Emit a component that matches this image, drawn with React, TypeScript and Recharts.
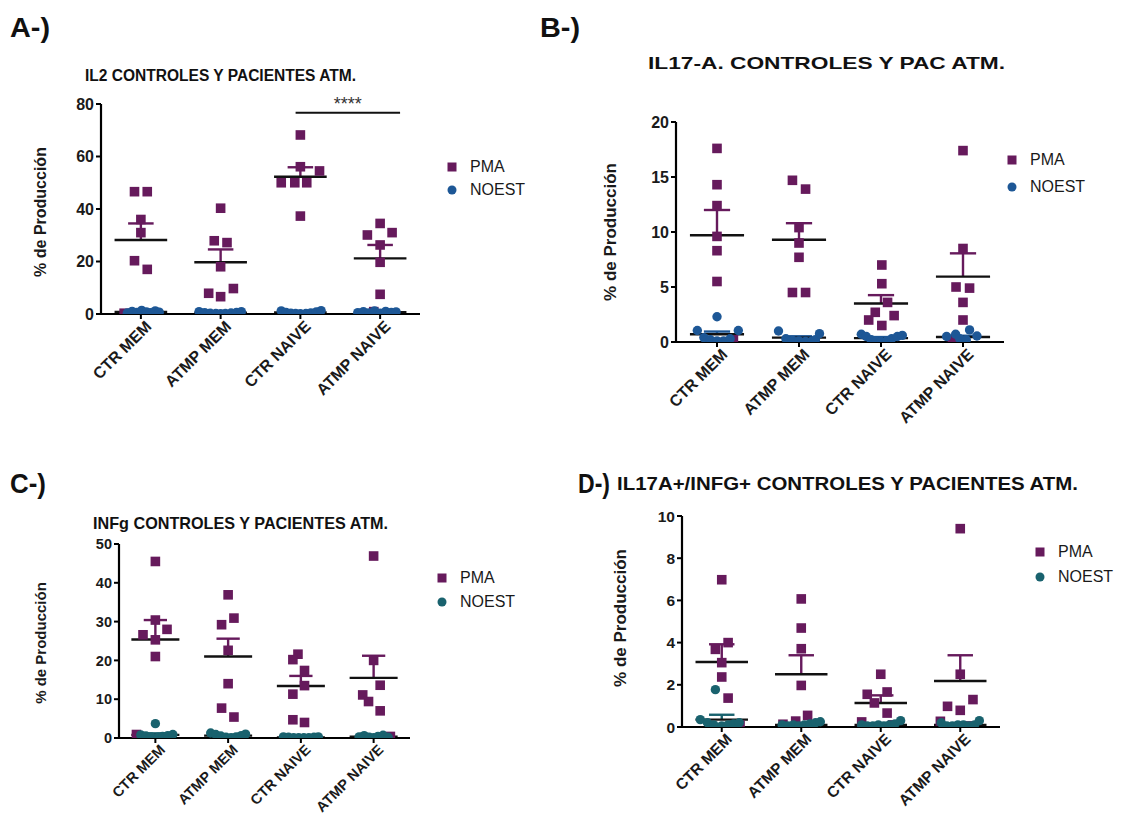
import React from "react";
import {
  ScatterChart,
  Scatter,
  XAxis,
  YAxis,
  ReferenceLine,
  Legend,
} from "recharts";

const FONT = '"Liberation Sans", Arial, Helvetica, sans-serif';
const PMA_COLOR = "#661a5c";
const BLUE = "#1d5796";
const TEAL = "#19626e";

const GROUPS = ["CTR MEM", "ATMP MEM", "CTR NAIVE", "ATMP NAIVE"];

// ---- A) IL2 ----
const A_PMA = [
  [46.6, 46.6, 36, 31, 20.3, 17, 0.3],
  [40.3, 27.9, 27.2, 18, 9.7, 7.9, 6.6],
  [68.2, 56.1, 54.5, 50, 50, 50, 37.3],
  [34.5, 31, 30.1, 26.3, 19.7, 7.5, 0.9],
];
const A_PMA_DX = [
  [-0.08, 0.08, 0, 0, -0.08, 0.08, -0.21],
  [0, -0.08, 0.08, 0, 0.16, -0.15, 0],
  [0, 0, 0.24, -0.24, -0.07, 0.08, 0],
  [0, 0.15, -0.16, 0, 0, 0, -0.08],
];
const A_PMA_MEAN = [28.2, 19.7, 52.3, 21.2];
const A_PMA_SEM = [6.3, 4.9, 3.6, 5.1];
const A_NOEST = [
  [0.4, 1.0, 0.6, 1.4, 0.8, 0.5, 1.2, 0.7],
  [0.9, 0.5, 0.3, 0.2, 0.1, 0.2, 0.4, 0.6, 0.9],
  [1.2, 0.6, 0.3, 0.2, 0.1, 0.2, 0.4, 0.8, 1.3],
  [0.5, 0.9, 0.4, 1.2, 0.3, 1.0, 0.6, 0.8],
];
const A_NOEST_DX = [
  [-0.17, -0.11, -0.05, 0.01, 0.07, 0.12, 0.18, 0.23],
  [-0.27, -0.2, -0.13, -0.06, 0, 0.06, 0.13, 0.2, 0.26],
  [-0.24, -0.18, -0.12, -0.06, 0, 0.07, 0.13, 0.2, 0.26],
  [-0.28, -0.21, -0.14, -0.07, 0, 0.07, 0.14, 0.2],
];
const A_NOEST_MEAN = [0.8, 0.45, 0.55, 0.7];
const A_NOEST_SEM = [0.15, 0.1, 0.15, 0.12];

// ---- B) IL17-A ----
const B_PMA = [
  [17.6, 14.3, 12.4, 9.6, 8.3, 5.5, 0.2],
  [14.7, 13.9, 10.4, 9.0, 7.7, 4.5, 4.5],
  [7.0, 5.3, 3.6, 2.7, 2.4, 2.0, 1.5],
  [17.4, 8.5, 5.0, 4.9, 3.6, 2.0, 0.2],
];
const B_PMA_DX = [
  [0, 0, 0, 0, 0, 0, 0.2],
  [-0.08, 0.08, 0, 0, 0, -0.08, 0.08],
  [0.01, 0.01, 0.08, -0.07, 0.16, -0.15, 0.01],
  [0, 0, -0.085, 0.08, 0, 0, -0.13],
];
const B_PMA_MEAN = [9.7, 9.3, 3.5, 5.94];
const B_PMA_SEM = [2.3, 1.5, 0.76, 2.12];
const B_NOEST = [
  [2.3, 1.05, 1.05, 0.4, 0.2, 0.1, 0.1, 0.3],
  [1.0, 0.3, 0.15, 0.1, 0.05, 0.1, 0.2, 0.76],
  [0.7, 0.5, 0.2, 0.1, 0.05, 0.1, 0.3, 0.5, 0.6],
  [0.5, 0.7, 1.1, 0.55, 0.1, 0.3, 0.2],
];
const B_NOEST_DX = [
  [0, -0.24, 0.26, -0.16, -0.08, 0.08, 0, 0.16],
  [-0.25, -0.16, -0.08, 0, 0.08, 0.16, 0.2, 0.25],
  [-0.24, -0.18, -0.12, -0.06, 0, 0.07, 0.13, 0.2, 0.26],
  [-0.2, -0.09, 0.08, 0.17, 0, -0.04, 0.04],
];
const B_NOEST_MEAN = [0.7, 0.4, 0.35, 0.45];
const B_NOEST_SEM = [0.25, 0.12, 0.1, 0.12];

// ---- C) INFg ----
const C_PMA = [
  [45.5, 30.4, 28, 26.6, 25.3, 21.0, 0.9],
  [36.9, 30.9, 29.2, 22.6, 14, 7.7, 5.4],
  [21.6, 20.2, 17.4, 13.5, 11.3, 4.7, 4.0],
  [46.9, 20.0, 13.6, 11.1, 9.4, 7.0, 0.4],
];
const C_PMA_DX = [
  [0, 0, 0.16, -0.17, 0, 0, -0.26],
  [0, 0.08, -0.09, 0, 0, -0.09, 0.08],
  [-0.04, -0.11, 0.05, 0.05, -0.11, -0.11, 0.05],
  [0, 0, 0.09, -0.15, -0.07, 0.09, 0.23],
];
const C_PMA_MEAN = [25.4, 21.0, 13.4, 15.5];
const C_PMA_SEM = [5.0, 4.6, 2.6, 5.7];
const C_NOEST = [
  [3.7, 0.8, 0.5, 0.3, 0.2, 0.4, 0.6, 0.9],
  [1.3, 0.9, 0.5, 0.2, 0.1, 0.3, 0.6, 1.0],
  [0.3, 0.2, 0.1, 0.05, 0.05, 0.1, 0.2, 0.3],
  [0.3, 0.6, 0.2, 0.1, 0.4, 0.7, 0.2],
];
const C_NOEST_DX = [
  [0, -0.2, -0.13, -0.06, 0.04, 0.1, 0.17, 0.24],
  [-0.24, -0.17, -0.1, -0.03, 0.04, 0.11, 0.18, 0.24],
  [-0.24, -0.17, -0.1, -0.03, 0.04, 0.11, 0.18, 0.24],
  [-0.2, -0.13, -0.06, 0, 0.06, 0.13, 0.2],
];
const C_NOEST_MEAN = [0.8, 0.6, 0.15, 0.35];
const C_NOEST_SEM = [0.4, 0.15, 0.05, 0.1];

// ---- D) IL17A+/INFG+ ----
const D_PMA = [
  [6.98, 4.0, 3.68, 3.05, 2.37, 1.37, 0.08],
  [6.07, 4.69, 3.71, 1.97, 0.55, 0.28, 0.13],
  [2.5, 1.66, 1.55, 1.14, 0.66, 0.24, 0.1],
  [9.4, 2.5, 1.3, 0.98, 0.79, 0.27, 0.05],
];
const D_PMA_DX = [
  [0, 0.08, -0.08, 0, 0, 0.08, 0.23],
  [0, 0, 0, 0, 0.08, -0.07, -0.23],
  [0, 0.08, -0.17, -0.08, 0.08, -0.24, 0.15],
  [0, 0, 0.16, -0.16, 0, -0.25, 0.1],
];
const D_PMA_MEAN = [3.08, 2.5, 1.14, 2.18];
const D_PMA_SEM = [0.84, 0.9, 0.36, 1.22];
const D_NOEST = [
  [1.77, 0.35, 0.2, 0.1, 0.05, 0.1, 0.15, 0.2],
  [0.1, 0.05, 0.1, 0.05, 0.1, 0.15, 0.2, 0.25],
  [0.1, 0.05, 0.05, 0.1, 0.05, 0.1, 0.15, 0.3],
  [0.2, 0.05, 0.05, 0.1, 0.1, 0.05, 0.1, 0.3],
];
const D_NOEST_DX = [
  [-0.08, -0.27, -0.18, -0.1, 0, 0.08, 0.15, 0.22],
  [-0.24, -0.17, -0.1, -0.03, 0.04, 0.11, 0.18, 0.24],
  [-0.24, -0.17, -0.1, -0.03, 0.04, 0.11, 0.18, 0.25],
  [-0.24, -0.17, -0.1, -0.03, 0.04, 0.11, 0.18, 0.24],
];
const D_NOEST_MEAN = [0.35, 0.1, 0.1, 0.1];
const D_NOEST_SEM = [0.23, 0.03, 0.03, 0.03];

// significance bar in panel A (x in group units, y in %)
const A_SIG = { x1: 1.94, x2: 3.25, y: 76.7, text: "****" };

type Pt = { x: number; y: number };

function toPoints(vals: number[][], dx: number[][]): Pt[] {
  const out: Pt[] = [];
  vals.forEach((g, gi) => g.forEach((v, i) => out.push({ x: gi + dx[gi][i], y: v })));
  return out;
}

function statLines(means: number[], sems: number[], color: string, key: string) {
  return means.flatMap((m, g) => {
    const top = m + sems[g];
    return [
      <ReferenceLine key={`${key}v${g}`} segment={[{ x: g, y: m }, { x: g, y: top }]} stroke={color} strokeWidth={2.4} ifOverflow="visible" />,
      <ReferenceLine key={`${key}c${g}`} segment={[{ x: g - 0.16, y: top }, { x: g + 0.16, y: top }]} stroke={color} strokeWidth={2.4} ifOverflow="visible" />,
      <ReferenceLine key={`${key}m${g}`} segment={[{ x: g - 0.33, y: m }, { x: g + 0.33, y: m }]} stroke="#111" strokeWidth={2.4} ifOverflow="visible" />,
    ];
  });
}

function CategoryTick(props: any) {
  const { x, y, payload, fs } = props;
  return (
    <g transform={`translate(${x + 3},${y - 2}) rotate(-45)`}>
      <text textAnchor="end" dy="0.75em" fontSize={fs} fontWeight={700} fill="#1a1a1a" fontFamily={FONT}>
        {GROUPS[payload.value]}
      </text>
    </g>
  );
}

interface PanelProps {
  plot: { left: number; right: number; top: number; bottom: number };
  yMax: number;
  yTicks: number[];
  noestColor: string;
  pma: Pt[];
  noest: Pt[];
  pmaMean: number[];
  pmaSem: number[];
  noestMean: number[];
  noestSem: number[];
  legendAt: { x: number; y: number; gap: number };
  tickFont?: number;
  extra?: React.ReactNode;
}

const PAD_L = 100;
const PAD_T = 30;
const PAD_R = 160;
const PAD_B = 110;
const Y_W = 40;
const X_H = 90;

function Panel(p: PanelProps) {
  const w = p.plot.right - p.plot.left;
  const h = p.plot.bottom - p.plot.top;
  const boxLeft = p.plot.left - PAD_L;
  const boxTop = p.plot.top - PAD_T;
  const fs = p.tickFont ?? 16;
  const legendContent = () => (
    <div style={{ fontFamily: FONT, fontSize: 16, color: "#1a1a1a" }}>
      {[
        { name: "PMA", color: PMA_COLOR, square: true },
        { name: "NOEST", color: p.noestColor, square: false },
      ].map((it) => (
        <div key={it.name} style={{ display: "flex", alignItems: "center", height: p.legendAt.gap, whiteSpace: "nowrap" }}>
          <svg width={10} height={10} style={{ marginRight: 13 }}>
            {it.square ? <rect x={0.5} y={0.5} width={9} height={9} fill={it.color} /> : <circle cx={5} cy={5} r={4.5} fill={it.color} />}
          </svg>
          {it.name}
        </div>
      ))}
    </div>
  );
  return (
    <div style={{ position: "absolute", left: boxLeft, top: boxTop }}>
      <ScatterChart
        width={w + PAD_L + PAD_R}
        height={h + PAD_T + PAD_B}
        margin={{ top: PAD_T, left: PAD_L - Y_W, right: PAD_R, bottom: PAD_B - X_H }}
      >
        <XAxis
          type="number"
          dataKey="x"
          domain={[-0.5, 3.5]}
          ticks={[0, 1, 2, 3]}
          allowDataOverflow
          height={X_H}
          tickSize={5}
          tick={<CategoryTick fs={fs} />}
          axisLine={{ stroke: "#000", strokeWidth: 2.2 }}
          tickLine={{ stroke: "#000", strokeWidth: 2 }}
        />
        <YAxis
          type="number"
          dataKey="y"
          domain={[0, p.yMax]}
          ticks={p.yTicks}
          allowDataOverflow
          width={Y_W}
          tickSize={5}
          tick={{ fontSize: fs, fontWeight: 700, fill: "#1a1a1a", fontFamily: FONT }}
          axisLine={{ stroke: "#000", strokeWidth: 2.2 }}
          tickLine={{ stroke: "#000", strokeWidth: 2 }}
        />
        <Legend
          layout="vertical"
          align="center"
          verticalAlign="middle"
          content={legendContent}
          wrapperStyle={{
            left: p.legendAt.x - boxLeft - 5,
            top: p.legendAt.y - boxTop - p.legendAt.gap / 2,
            width: "auto",
          }}
        />
        <Scatter
          name="PMA"
          data={p.pma}
          isAnimationActive={false}
          shape={(s: any) => <rect x={s.cx - 4.8} y={s.cy - 4.8} width={9.6} height={9.6} fill={PMA_COLOR} />}
        />
        <Scatter
          name="NOEST"
          data={p.noest}
          isAnimationActive={false}
          shape={(s: any) => <circle cx={s.cx} cy={s.cy} r={4.7} fill={p.noestColor} />}
        />
        {statLines(p.noestMean, p.noestSem, p.noestColor, "n")}
        {statLines(p.pmaMean, p.pmaSem, PMA_COLOR, "p")}
        {p.extra}
      </ScatterChart>
    </div>
  );
}

const TITLES = [
  { text: "A-)", x: 10, y: 37, size: 27, len: 40 },
  { text: "B-)", x: 540, y: 37, size: 27, len: 40 },
  { text: "C-)", x: 10, y: 493, size: 27, len: 36 },
  { text: "D-)", x: 578, y: 493, size: 27, len: 32 },
  { text: "IL2 CONTROLES Y PACIENTES ATM.", x: 85, y: 81, size: 16, len: 271 },
  { text: "IL17-A. CONTROLES Y PAC ATM.", x: 648, y: 69, size: 17, len: 357 },
  { text: "INFg CONTROLES Y PACIENTES ATM.", x: 93, y: 529, size: 17, len: 295 },
  { text: "IL17A+/INFG+ CONTROLES Y PACIENTES ATM.", x: 617, y: 490, size: 18, len: 461 },
];

const Y_LABELS = [
  { x: 42, y: 212, size: 16 },
  { x: 612, y: 232, size: 17 },
  { x: 42, y: 643, size: 15 },
  { x: 622, y: 618, size: 17 },
];

export default function App() {
  return (
    <div style={{ position: "absolute", left: 0, top: 0, width: 1135, height: 817, overflow: "hidden", background: "#fff", fontFamily: FONT }}>
      <Panel
        plot={{ left: 101, right: 420, top: 104, bottom: 314 }}
        yMax={80}
        yTicks={[0, 20, 40, 60, 80]}
        noestColor={BLUE}
        pma={toPoints(A_PMA, A_PMA_DX)}
        noest={toPoints(A_NOEST, A_NOEST_DX)}
        pmaMean={A_PMA_MEAN}
        pmaSem={A_PMA_SEM}
        noestMean={A_NOEST_MEAN}
        noestSem={A_NOEST_SEM}
        legendAt={{ x: 452, y: 167, gap: 23 }}
        extra={
          <ReferenceLine
            segment={[{ x: A_SIG.x1, y: A_SIG.y }, { x: A_SIG.x2, y: A_SIG.y }]}
            stroke="#111"
            strokeWidth={2}
            ifOverflow="visible"
            label={{ value: A_SIG.text, position: "top", fill: "#333", fontSize: 18, offset: 3 }}
          />
        }
      />
      <Panel
        plot={{ left: 676, right: 1004, top: 122, bottom: 342 }}
        yMax={20}
        yTicks={[0, 5, 10, 15, 20]}
        noestColor={BLUE}
        pma={toPoints(B_PMA, B_PMA_DX)}
        noest={toPoints(B_NOEST, B_NOEST_DX)}
        pmaMean={B_PMA_MEAN}
        pmaSem={B_PMA_SEM}
        noestMean={B_NOEST_MEAN}
        noestSem={B_NOEST_SEM}
        legendAt={{ x: 1012, y: 160, gap: 27 }}
      />
      <Panel
        plot={{ left: 119, right: 410, top: 544, bottom: 738 }}
        yMax={50}
        yTicks={[0, 10, 20, 30, 40, 50]}
        noestColor={TEAL}
        pma={toPoints(C_PMA, C_PMA_DX)}
        noest={toPoints(C_NOEST, C_NOEST_DX)}
        pmaMean={C_PMA_MEAN}
        pmaSem={C_PMA_SEM}
        noestMean={C_NOEST_MEAN}
        noestSem={C_NOEST_SEM}
        legendAt={{ x: 442, y: 578, gap: 24 }}
        tickFont={14.5}
      />
      <Panel
        plot={{ left: 682, right: 1000, top: 516, bottom: 727 }}
        yMax={10}
        yTicks={[0, 2, 4, 6, 8, 10]}
        noestColor={TEAL}
        pma={toPoints(D_PMA, D_PMA_DX)}
        noest={toPoints(D_NOEST, D_NOEST_DX)}
        pmaMean={D_PMA_MEAN}
        pmaSem={D_PMA_SEM}
        noestMean={D_NOEST_MEAN}
        noestSem={D_NOEST_SEM}
        legendAt={{ x: 1040, y: 552, gap: 25 }}
        tickFont={15.5}
      />
      <svg width={1135} height={817} style={{ position: "absolute", left: 0, top: 0, pointerEvents: "none" }}>
        {TITLES.map((t) => (
          <text
            key={t.text}
            x={t.x}
            y={t.y}
            fontSize={t.size}
            fontWeight={700}
            fill="#111"
            fontFamily={FONT}
            textLength={t.len}
            lengthAdjust="spacingAndGlyphs"
          >
            {t.text}
          </text>
        ))}
        {Y_LABELS.map((l, i) => (
          <text
            key={i}
            transform={`translate(${l.x},${l.y}) rotate(-90)`}
            textAnchor="middle"
            dominantBaseline="middle"
            fontSize={l.size}
            fontWeight={700}
            fill="#1a1a1a"
            fontFamily={FONT}
          >
            % de Producción
          </text>
        ))}
      </svg>
    </div>
  );
}
